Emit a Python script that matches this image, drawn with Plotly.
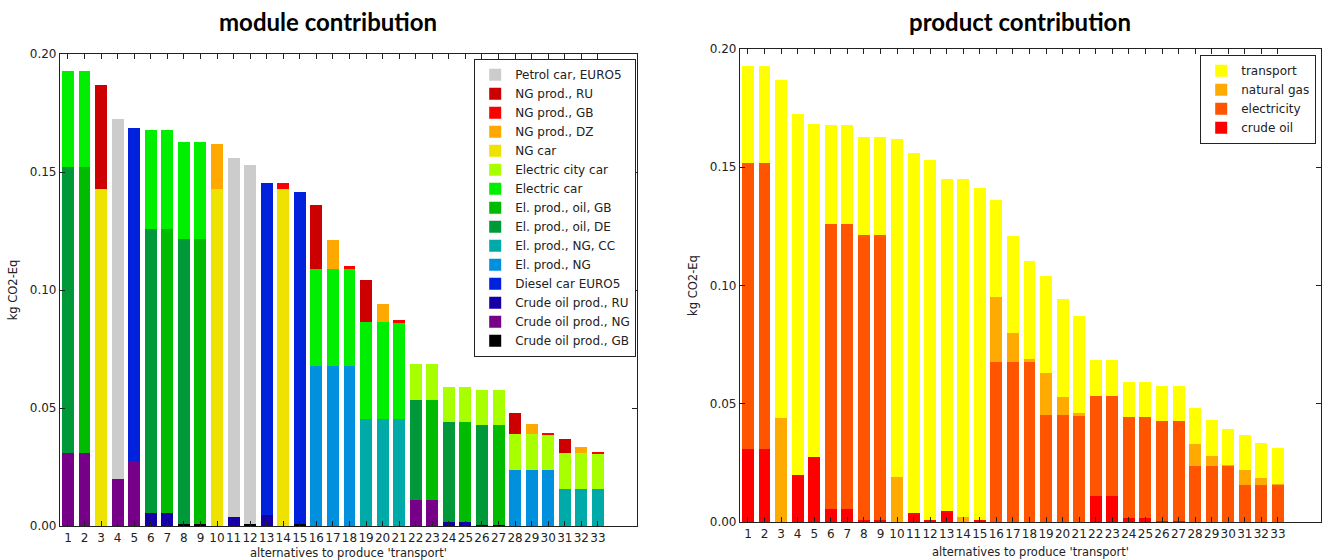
import plotly.graph_objects as go

alternatives = [str(i) for i in range(1, 34)]

# ---- module contribution (segment heights, kg CO2-Eq), stacked bottom-up ----
crude_oil_gb = [0, 0, 0, 0, 0, 0, 0, 0.001, 0.001, 0, 0, 0.0007, 0, 0, 0.0008, 0, 0, 0, 0, 0, 0, 0, 0, 0, 0, 0.0005, 0.0005, 0, 0, 0, 0, 0, 0]
crude_oil_ng = [0.031, 0.031, 0, 0.020, 0.0275, 0, 0, 0, 0, 0, 0, 0, 0, 0, 0, 0, 0, 0, 0, 0, 0, 0.0112, 0.0112, 0, 0, 0, 0, 0, 0, 0, 0, 0, 0]
crude_oil_ru = [0, 0, 0, 0, 0, 0.0054, 0.0054, 0, 0, 0, 0.0037, 0, 0.0048, 0, 0, 0, 0, 0, 0, 0, 0, 0, 0, 0.0019, 0.0019, 0, 0, 0, 0, 0, 0, 0, 0]
diesel_car = [0, 0, 0, 0, 0.141, 0, 0, 0, 0, 0, 0, 0, 0.1404, 0, 0.1406, 0, 0, 0, 0, 0, 0, 0, 0, 0, 0, 0, 0, 0, 0, 0, 0, 0, 0]
el_prod_ng = [0, 0, 0, 0, 0, 0, 0, 0, 0, 0, 0, 0, 0, 0, 0, 0.0678, 0.0678, 0.0678, 0, 0, 0, 0, 0, 0, 0, 0, 0, 0.0238, 0.0238, 0.0238, 0, 0, 0]
el_prod_ng_cc = [0, 0, 0, 0, 0, 0, 0, 0, 0, 0, 0, 0, 0, 0, 0, 0, 0, 0, 0.0452, 0.0452, 0.0452, 0, 0, 0, 0, 0, 0, 0, 0, 0, 0.0157, 0.0157, 0.0157]
el_prod_oil_de = [0.121, 0, 0, 0, 0, 0.1206, 0, 0.1205, 0, 0, 0, 0, 0, 0, 0, 0, 0, 0, 0, 0, 0, 0.0422, 0, 0.0423, 0, 0.0422, 0, 0, 0, 0, 0, 0, 0]
el_prod_oil_gb = [0, 0.121, 0, 0, 0, 0, 0.1206, 0, 0.1205, 0, 0, 0, 0, 0, 0, 0, 0, 0, 0, 0, 0, 0, 0.0422, 0, 0.0423, 0, 0.0422, 0, 0, 0, 0, 0, 0]
electric_car = [0.041, 0.041, 0, 0, 0, 0.0417, 0.0417, 0.0413, 0.0413, 0, 0, 0, 0, 0, 0, 0.0412, 0.0412, 0.0412, 0.0412, 0.0412, 0.0412, 0, 0, 0, 0, 0, 0, 0, 0, 0, 0, 0, 0]
electric_city_car = [0, 0, 0, 0, 0, 0, 0, 0, 0, 0, 0, 0, 0, 0, 0, 0, 0, 0, 0, 0, 0, 0.0151, 0.0151, 0.0149, 0.0149, 0.0149, 0.0149, 0.015, 0.015, 0.015, 0.0151, 0.0151, 0.0151]
ng_car = [0, 0, 0.143, 0, 0, 0, 0, 0, 0, 0.143, 0, 0, 0, 0.143, 0, 0, 0, 0, 0, 0, 0, 0, 0, 0, 0, 0, 0, 0, 0, 0, 0, 0, 0]
ng_prod_dz = [0, 0, 0, 0, 0, 0, 0, 0, 0, 0.019, 0, 0, 0, 0, 0, 0, 0.012, 0, 0, 0.0077, 0, 0, 0, 0, 0, 0, 0, 0, 0.0043, 0, 0, 0.0027, 0]
ng_prod_gb = [0, 0, 0, 0, 0, 0, 0, 0, 0, 0, 0, 0, 0, 0.0022, 0, 0, 0, 0.0013, 0, 0, 0.0007, 0, 0, 0, 0, 0, 0, 0, 0, 0.0004, 0, 0, 0.0004]
ng_prod_ru = [0, 0, 0.044, 0, 0, 0, 0, 0, 0, 0, 0, 0, 0, 0, 0, 0.0272, 0, 0, 0.0178, 0, 0, 0, 0, 0, 0, 0, 0, 0.0092, 0, 0, 0.0062, 0, 0]
petrol_car = [0, 0, 0, 0.1525, 0, 0, 0, 0, 0, 0, 0.1523, 0.1523, 0, 0, 0, 0, 0, 0, 0, 0, 0, 0, 0, 0, 0, 0, 0, 0, 0, 0, 0, 0, 0]

module_names = ["Crude oil prod., GB", "Crude oil prod., NG", "Crude oil prod., RU", "Diesel car EURO5",
                "El. prod., NG", "El. prod., NG, CC", "El. prod., oil, DE", "El. prod., oil, GB",
                "Electric car", "Electric city car", "NG car", "NG prod., DZ", "NG prod., GB",
                "NG prod., RU", "Petrol car, EURO5"]
module_values = [crude_oil_gb, crude_oil_ng, crude_oil_ru, diesel_car, el_prod_ng, el_prod_ng_cc,
                 el_prod_oil_de, el_prod_oil_gb, electric_car, electric_city_car, ng_car,
                 ng_prod_dz, ng_prod_gb, ng_prod_ru, petrol_car]
module_colors = ["#000000", "#770088", "#1400a6", "#0022dd", "#0090dd", "#00aaa8", "#00993a",
                 "#00bb00", "#00ee00", "#a8ff00", "#eee200", "#ffa800", "#ff0000", "#cc0000", "#cccccc"]

# ---- product contribution (segment heights), stacked bottom-up ----
crude_oil = [0.031, 0.031, 0, 0.020, 0.0275, 0.0054, 0.0054, 0.001, 0.001, 0, 0.0037, 0.0007, 0.0048, 0, 0.0008, 0, 0, 0, 0, 0, 0, 0.0112, 0.0112, 0.0019, 0.0019, 0.0005, 0.0005, 0, 0, 0, 0, 0, 0]
electricity = [0.121, 0.121, 0, 0, 0, 0.1206, 0.1206, 0.1205, 0.1205, 0, 0, 0, 0, 0, 0, 0.0678, 0.0678, 0.0678, 0.0452, 0.0452, 0.0452, 0.0422, 0.0422, 0.0423, 0.0423, 0.0422, 0.0422, 0.0238, 0.0238, 0.0238, 0.0157, 0.0157, 0.0157]
natural_gas = [0, 0, 0.044, 0, 0, 0, 0, 0, 0, 0.019, 0, 0, 0, 0.0022, 0, 0.0272, 0.012, 0.0013, 0.0178, 0.0077, 0.0007, 0, 0, 0, 0, 0, 0, 0.0092, 0.0043, 0.0004, 0.0062, 0.0027, 0.0004]
transport = [0.041, 0.041, 0.143, 0.1525, 0.141, 0.0417, 0.0417, 0.0413, 0.0413, 0.143, 0.1523, 0.1523, 0.1404, 0.143, 0.1406, 0.0412, 0.0412, 0.0412, 0.0412, 0.0412, 0.0412, 0.0151, 0.0151, 0.0149, 0.0149, 0.0149, 0.0149, 0.015, 0.015, 0.015, 0.0151, 0.0151, 0.0151]

product_names = ["crude oil", "electricity", "natural gas", "transport"]
product_values = [crude_oil, electricity, natural_gas, transport]
product_colors = ["#ff0000", "#ff5500", "#ffaa00", "#ffff00"]

x_vals = list(range(1, 34))
BAR_W = 0.72

fig = go.Figure()
for name, vals, col in zip(module_names, module_values, module_colors):
    fig.add_trace(go.Bar(x=x_vals, y=vals, name=name, marker=dict(color=col, line=dict(width=0)),
                         width=BAR_W, xaxis="x", yaxis="y", legend="legend"))
for name, vals, col in zip(product_names, product_values, product_colors):
    fig.add_trace(go.Bar(x=x_vals, y=vals, name=name, marker=dict(color=col, line=dict(width=0)),
                         width=BAR_W, xaxis="x2", yaxis="y2", legend="legend2"))

W, H = 1322, 560
tickfont = dict(family="DejaVu Sans", size=12, color="#222")
titlefont = dict(family="DejaVu Sans", size=11.5, color="#222")

def xax(domain, rng, anchor):
    return dict(domain=domain, range=rng, anchor=anchor, tickmode="array", tickvals=x_vals,
                ticktext=alternatives, tickangle=0, ticks="inside", ticklen=5, tickcolor="#222",
                showline=True, linecolor="#222", linewidth=1.2, mirror="allticks",
                showgrid=False, zeroline=False, tickfont=tickfont, automargin=False,
                title=dict(text="alternatives to produce 'transport'", font=titlefont, standoff=8))

def yax(domain, anchor):
    return dict(domain=domain, range=[0, 0.2], anchor=anchor, tickmode="array",
                tickvals=[0, 0.05, 0.10, 0.15, 0.20], ticktext=["0.00", "0.05", "0.10", "0.15", "0.20"],
                ticks="inside", ticklen=5, tickcolor="#222", showline=True, linecolor="#222",
                linewidth=1.2, mirror="allticks", showgrid=False, zeroline=False, tickfont=tickfont,
                automargin=False,
                title=dict(text="kg CO2-Eq", font=titlefont, standoff=9))

fig.update_layout(
    width=W, height=H, barmode="stack", bargap=0,
    paper_bgcolor="white", plot_bgcolor="white",
    margin=dict(l=0, r=0, t=0, b=0, autoexpand=False),
    xaxis=xax([60 / W, 637 / W], [0.52, 35.36], "y"),
    yaxis=yax([(H - 526) / H, (H - 54) / H], "x"),
    xaxis2=xax([740 / W, 1321 / W], [0.52, 35.6], "y2"),
    yaxis2=yax([(H - 522) / H, (H - 49) / H], "x2"),
    legend=dict(x=636 / W, y=(H - 59) / H, xanchor="right", yanchor="top", traceorder="reversed",
                bordercolor="#222", borderwidth=1.2, bgcolor="white",
                font=dict(family="DejaVu Sans", size=12, color="#222")),
    legend2=dict(x=1316 / W, y=(H - 55) / H, xanchor="right", yanchor="top", traceorder="reversed",
                 bordercolor="#222", borderwidth=1.2, bgcolor="white",
                 font=dict(family="DejaVu Sans", size=12, color="#222")),
    annotations=[
        dict(text="<b>module contribution</b>", x=328 / W, y=(H - 22) / H, xref="paper", yref="paper",
             xanchor="center", yanchor="middle", showarrow=False,
             font=dict(family="Lato", size=24, color="black")),
        dict(text="<b>product contribution</b>", x=1020 / W, y=(H - 22) / H, xref="paper", yref="paper",
             xanchor="center", yanchor="middle", showarrow=False,
             font=dict(family="Lato", size=24, color="black")),
    ],
    showlegend=True,
)

fig.write_html("out.html", config={"displayModeBar": False},
               post_script="document.body.style.margin='0';document.body.style.overflow='hidden';")
